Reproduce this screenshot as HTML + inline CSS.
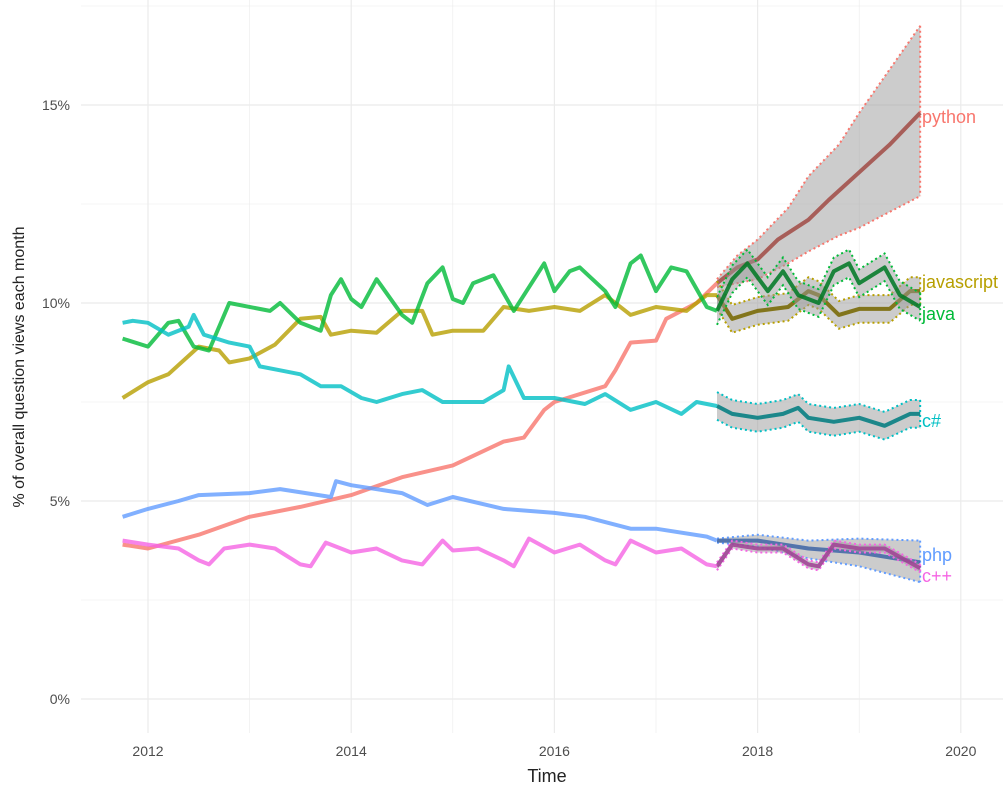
<!DOCTYPE html>
<html><head><meta charset="utf-8"><style>
body{margin:0;background:#fff;}
svg{display:block;font-family:"Liberation Sans",sans-serif;}
</style></head><body>
<svg id="c" width="1003" height="793" xmlns="http://www.w3.org/2000/svg">
<g id="grid"></g><g id="bands"></g><g id="lines"></g><g id="txt"></g>
</svg>
<script>
const X=y=>148+(y-2012)*101.6, Y=p=>699-p*39.6;
const NS="http://www.w3.org/2000/svg";
function el(parent,tag,attrs,text){const e=document.createElementNS(NS,tag);for(const k in attrs)e.setAttribute(k,attrs[k]);if(text!==undefined)e.textContent=text;document.getElementById(parent).appendChild(e);return e;}
for(let yr=2012;yr<=2020;yr++){el("grid","line",{x1:X(yr),x2:X(yr),y1:0,y2:733,stroke:"#ebebeb","stroke-width":yr%2==0?1.2:0.6});}
for(let p=-2.5;p<=17.5;p+=2.5){el("grid","line",{x1:81,x2:1003,y1:Y(p),y2:Y(p),stroke:"#ebebeb","stroke-width":p%5==0?1.2:0.6});}
[0,5,10,15].forEach(p=>el("txt","text",{x:70,y:Y(p)+5,"text-anchor":"end","font-size":14,fill:"#4d4d4d"},p+"%"));
[2012,2014,2016,2018,2020].forEach(y=>el("txt","text",{x:X(y),y:756,"text-anchor":"middle","font-size":14,fill:"#4d4d4d"},y));
el("txt","text",{x:547,y:782,"text-anchor":"middle","font-size":18,fill:"#222"},"Time");
el("txt","text",{x:0,y:0,"text-anchor":"middle","font-size":16,fill:"#222",transform:"translate(24,367) rotate(-90)"},"% of overall question views each month");
const S=[
{n:"python",c:"#F8766D",ly:117,h:[[2011.75,3.9],[2012,3.8],[2012.5,4.15],[2013,4.6],[2013.5,4.85],[2014,5.15],[2014.5,5.6],[2015,5.9],[2015.5,6.5],[2015.7,6.6],[2015.9,7.3],[2016,7.5],[2016.5,7.9],[2016.6,8.3],[2016.75,9.0],[2017,9.05],[2017.1,9.6],[2017.4,10.0],[2017.6,10.5]],
 f:[[2017.6,10.5],[2017.8,10.9],[2018,11.1],[2018.2,11.6],[2018.5,12.1],[2018.7,12.6],[2019,13.3],[2019.3,14.0],[2019.6,14.8]],bu:[[2017.6,10.6],[2017.8,11.2],[2018,11.6],[2018.3,12.4],[2018.5,13.2],[2018.8,14.0],[2019,14.8],[2019.3,15.9],[2019.6,17.0]],bl:[[2017.6,10.4],[2017.8,10.5],[2018,10.6],[2018.3,11.0],[2018.5,11.3],[2018.8,11.7],[2019,11.9],[2019.3,12.3],[2019.6,12.7]]},
{n:"javascript",c:"#B79F00",ly:282,h:[[2011.75,7.6],[2012,8.0],[2012.2,8.2],[2012.5,8.9],[2012.7,8.8],[2012.8,8.5],[2013,8.6],[2013.25,8.95],[2013.5,9.6],[2013.7,9.65],[2013.8,9.2],[2014,9.3],[2014.25,9.25],[2014.5,9.8],[2014.7,9.8],[2014.8,9.2],[2015,9.3],[2015.3,9.3],[2015.5,9.9],[2015.75,9.8],[2016,9.9],[2016.25,9.8],[2016.5,10.2],[2016.75,9.7],[2017,9.9],[2017.3,9.8],[2017.5,10.2],[2017.6,10.2]],
 f:[[2017.6,10.2],[2017.75,9.6],[2018,9.8],[2018.3,9.9],[2018.5,10.3],[2018.6,10.2],[2018.8,9.7],[2019,9.85],[2019.3,9.85],[2019.5,10.3],[2019.6,10.3]],d:0.35},
{n:"java",c:"#00BA38",ly:314,h:[[2011.75,9.1],[2012,8.9],[2012.2,9.5],[2012.3,9.55],[2012.45,8.9],[2012.6,8.8],[2012.8,10.0],[2013.2,9.8],[2013.3,10.0],[2013.5,9.5],[2013.7,9.3],[2013.8,10.2],[2013.9,10.6],[2014,10.1],[2014.1,9.9],[2014.25,10.6],[2014.5,9.7],[2014.6,9.5],[2014.75,10.5],[2014.9,10.9],[2015,10.1],[2015.1,10.0],[2015.2,10.5],[2015.4,10.7],[2015.6,9.8],[2015.75,10.4],[2015.9,11.0],[2016,10.3],[2016.15,10.8],[2016.25,10.9],[2016.5,10.3],[2016.6,9.9],[2016.75,11.0],[2016.85,11.2],[2017,10.3],[2017.15,10.9],[2017.3,10.8],[2017.5,9.9],[2017.6,9.8]],
 f:[[2017.6,9.8],[2017.75,10.6],[2017.9,11.0],[2018.1,10.3],[2018.25,10.8],[2018.4,10.2],[2018.6,10.0],[2018.75,10.8],[2018.9,11.0],[2019,10.5],[2019.25,10.9],[2019.4,10.2],[2019.6,9.9]],d:0.35},
{n:"c#",c:"#00BFC4",ly:421,h:[[2011.75,9.5],[2011.85,9.55],[2012,9.5],[2012.2,9.2],[2012.4,9.4],[2012.45,9.7],[2012.55,9.2],[2012.8,9.0],[2013,8.9],[2013.1,8.4],[2013.3,8.3],[2013.5,8.2],[2013.7,7.9],[2013.9,7.9],[2014.1,7.6],[2014.25,7.5],[2014.5,7.7],[2014.7,7.8],[2014.9,7.5],[2015,7.5],[2015.3,7.5],[2015.5,7.8],[2015.55,8.4],[2015.7,7.6],[2016,7.6],[2016.3,7.45],[2016.5,7.7],[2016.75,7.3],[2017,7.5],[2017.25,7.2],[2017.4,7.5],[2017.6,7.4]],
 f:[[2017.6,7.4],[2017.75,7.2],[2018,7.1],[2018.25,7.2],[2018.4,7.35],[2018.5,7.1],[2018.75,7.0],[2019,7.1],[2019.25,6.9],[2019.5,7.2],[2019.6,7.2]],d:0.35},
{n:"php",c:"#619CFF",ly:555,h:[[2011.75,4.6],[2012,4.8],[2012.3,5.0],[2012.5,5.15],[2013,5.2],[2013.3,5.3],[2013.8,5.1],[2013.85,5.5],[2014,5.4],[2014.5,5.2],[2014.75,4.9],[2015,5.1],[2015.5,4.8],[2016,4.7],[2016.3,4.6],[2016.75,4.3],[2017,4.3],[2017.5,4.1],[2017.6,4.0]],
 f:[[2017.6,4.0],[2018,4.0],[2018.5,3.8],[2019,3.7],[2019.6,3.45]],bu:[[2017.6,4.05],[2018,4.15],[2018.5,4.0],[2019,4.05],[2019.6,4.0]],bl:[[2017.6,3.95],[2018,3.85],[2018.5,3.55],[2019,3.35],[2019.6,2.95]]},
{n:"c++",c:"#F564E3",ly:576,h:[[2011.75,4.0],[2012,3.9],[2012.3,3.8],[2012.5,3.5],[2012.6,3.4],[2012.75,3.8],[2013,3.9],[2013.25,3.8],[2013.5,3.4],[2013.6,3.35],[2013.75,3.95],[2014,3.7],[2014.25,3.8],[2014.5,3.5],[2014.7,3.4],[2014.9,4.0],[2015,3.75],[2015.25,3.8],[2015.5,3.5],[2015.6,3.35],[2015.75,4.05],[2016,3.7],[2016.25,3.9],[2016.5,3.5],[2016.6,3.4],[2016.75,4.0],[2017,3.7],[2017.25,3.8],[2017.5,3.4],[2017.6,3.35]],
 f:[[2017.6,3.35],[2017.75,3.9],[2018,3.8],[2018.25,3.8],[2018.5,3.4],[2018.6,3.35],[2018.75,3.9],[2019,3.8],[2019.25,3.8],[2019.6,3.3]],d:0.1}
];
const pts=a=>a.map(p=>X(p[0]).toFixed(1)+","+Y(p[1]).toFixed(1)).join(" ");
S.forEach(s=>{
 const bu=s.bu||s.f.map(p=>[p[0],p[1]+s.d]), bl=s.bl||s.f.map(p=>[p[0],p[1]-s.d]);
 el("bands","polygon",{points:pts(bu)+" "+pts(bl.slice().reverse()),fill:"#999","fill-opacity":0.5});
 const ds={fill:"none",stroke:s.c,"stroke-width":2,"stroke-dasharray":"2,3"};
 el("bands","polyline",Object.assign({points:pts(bu)},ds));
 el("bands","polyline",Object.assign({points:pts(bl)},ds));
 el("bands","line",Object.assign({x1:X(2019.6),x2:X(2019.6),y1:Y(bu[bu.length-1][1]),y2:Y(bl[bl.length-1][1])},ds));
 el("lines","polyline",{points:pts(s.h),fill:"none",stroke:s.c,"stroke-width":4,"stroke-opacity":0.8,"stroke-linejoin":"round"});
 el("bands","polyline",{points:pts(s.f),fill:"none",stroke:s.c,"stroke-width":4,"stroke-opacity":0.8,"stroke-linejoin":"round"});
 el("bands","polyline",{points:pts(s.f),fill:"none",stroke:"#000","stroke-width":4,"stroke-opacity":0.3,"stroke-linejoin":"round"});
 el("txt","text",{x:922,y:s.ly+6,"font-size":18,fill:s.c},s.n);
});
</script>
</body></html>
